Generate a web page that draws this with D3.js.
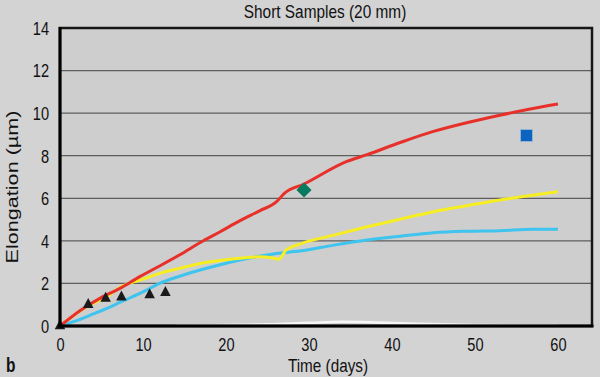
<!DOCTYPE html>
<html>
<head>
<meta charset="utf-8">
<script src="https://cdn.jsdelivr.net/npm/d3@7"></script>
<style>
  html, body { margin: 0; padding: 0; background: #d3d3d3; }
  svg { display: block; }
  text { font-family: "Liberation Sans", Arial, Helvetica, sans-serif; fill: #111; }
</style>
</head>
<body>
<svg id="chart" width="600" height="377"></svg>
<script>
// values: [days, elongation µm]
const redSeries = [[0,0],[2.4,0.72],[4.8,1.3],[7.4,1.8],[9.6,2.32],[12,2.82],[14.5,3.36],[16.9,3.92],
  [19.3,4.43],[21.7,4.95],[24.1,5.42],[26.1,5.84],[27,6.22],[29.4,6.67],[34.5,7.72],[37,8.05],
  [41,8.62],[44.9,9.13],[49,9.55],[53,9.9],[56.5,10.18],[60,10.43]];
const yellowSeries = [[0,0],[3.4,0.95],[5.5,1.35],[7.4,1.85],[10,2.2],[12,2.47],[14.5,2.72],[16.9,2.94],
  [19.3,3.08],[21.7,3.18],[24.1,3.25],[25.5,3.2],[26.4,3.14],[27.2,3.55],[28.9,3.85],[33,4.27],
  [37,4.66],[41,5.02],[45,5.37],[49,5.65],[53,5.92],[56.5,6.12],[60,6.31]];
const cyanSeries = [[0,0],[2,0.25],[3.6,0.5],[5.5,0.8],[7.4,1.14],[10,1.6],[12,2.0],[14.5,2.35],
  [16.9,2.63],[19.3,2.88],[21.7,3.1],[24,3.28],[26.1,3.41],[28.9,3.52],[33,3.8],[37,4.04],
  [41,4.22],[45,4.38],[49,4.45],[53,4.48],[57,4.54],[60,4.54]];
const whiteSeries = [[14,0.02],[20,0.05],[25,0.08],[30,0.15],[34,0.2],[38,0.17],[42,0.12],
  [46,0.08],[50,0.05],[55,0.03],[60,0.02]];
const triangles = [[0,0],[3.4,1.0],[5.5,1.3],[7.4,1.35],[10.8,1.46],[12.7,1.57]];
const diamonds = [[29.4,6.39]];
const squares = [[56.2,8.95]];
const xTicks = [0,10,20,30,40,50,60];
const yTicks = [0,2,4,6,8,10,12,14];

// layout
const plot = { left: 60, right: 592, top: 28, bottom: 326 };
const stretch = 1.25; // the picture's text is taller than it is wide

const svg = d3.select('#chart');

const x = d3.scaleLinear().domain([0, 64.1]).range([plot.left, plot.right]);
const y = d3.scaleLinear().domain([0, 14]).range([plot.bottom, plot.top]);

// plot background
svg.append('rect')
  .attr('x', plot.left).attr('y', plot.top)
  .attr('width', plot.right - plot.left).attr('height', plot.bottom - plot.top)
  .attr('fill', '#cecece');

// grid lines
svg.append('g')
  .selectAll('line')
  .data(yTicks.filter(d => d > 0 && d < 14))
  .join('line')
  .attr('x1', plot.left).attr('x2', plot.right)
  .attr('y1', d => y(d)).attr('y2', d => y(d))
  .attr('stroke', '#5e5e5e')
  .attr('stroke-width', 1.3);

// series lines
const line = d3.line().x(d => x(d[0])).y(d => y(d[1])).curve(d3.curveMonotoneX);

const drawLine = (data, color, width) => {
  svg.append('path')
    .datum(data)
    .attr('fill', 'none')
    .attr('stroke', color)
    .attr('stroke-width', width)
    .attr('stroke-linejoin', 'round')
    .attr('d', line);
};

drawLine(whiteSeries, '#f6f6f6', 2.5);
drawLine(cyanSeries, '#3ec4ee', 3);
drawLine(yellowSeries, '#f6ee22', 3);
drawLine(redSeries, '#e8302a', 3);

// frame
svg.append('rect')
  .attr('x', plot.left).attr('y', plot.top)
  .attr('width', plot.right - plot.left).attr('height', plot.bottom - plot.top)
  .attr('fill', 'none')
  .attr('stroke', '#151515')
  .attr('stroke-width', 2.5);

// markers
svg.append('g')
  .selectAll('path')
  .data(triangles)
  .join('path')
  .attr('transform', d => `translate(${x(d[0])},${y(d[1])}) scale(1,1.1)`)
  .attr('d', d3.symbol(d3.symbolTriangle, 48))
  .attr('fill', '#1a1a1a');

svg.append('g')
  .selectAll('path')
  .data(diamonds)
  .join('path')
  .attr('transform', d => `translate(${x(d[0])},${y(d[1])}) rotate(45)`)
  .attr('d', d3.symbol(d3.symbolSquare, 115))
  .attr('fill', '#087a5e');

svg.append('g')
  .selectAll('rect')
  .data(squares)
  .join('rect')
  .attr('x', d => x(d[0]) - 6).attr('y', d => y(d[1]) - 6)
  .attr('width', 12).attr('height', 12)
  .attr('fill', '#0a64c0')
  .attr('stroke', '#9fb8d6')
  .attr('stroke-width', 0.8);

// axes
const xAxis = svg.append('g')
  .attr('transform', `translate(0,${plot.bottom})`)
  .call(d3.axisBottom(x).tickValues(xTicks).tickSize(0));
xAxis.select('.domain').remove();
xAxis.selectAll('text')
  .attr('y', 0).attr('dy', null)
  .attr('transform', `translate(0,25) scale(1,${stretch})`)
  .style('font-size', '14.6px')
  .style('fill', '#111');

const yAxis = svg.append('g')
  .attr('transform', `translate(${plot.left},0)`)
  .call(d3.axisLeft(y).tickValues(yTicks).tickSize(0));
yAxis.select('.domain').remove();
yAxis.selectAll('text')
  .attr('x', 0).attr('dy', null)
  .attr('text-anchor', 'end')
  .attr('transform', `translate(-11,6.4) scale(1,${stretch})`)
  .style('font-size', '14.6px')
  .style('fill', '#111');

// thick axis lines on the left and bottom
svg.append('line')
  .attr('x1', plot.left).attr('x2', plot.left)
  .attr('y1', plot.top - 1).attr('y2', plot.bottom + 1.5)
  .attr('stroke', '#000').attr('stroke-width', 3);
svg.append('line')
  .attr('x1', plot.left - 1.5).attr('x2', plot.right + 1.5)
  .attr('y1', plot.bottom).attr('y2', plot.bottom)
  .attr('stroke', '#000').attr('stroke-width', 3);

// titles
svg.append('text')
  .attr('transform', `translate(325,17.5) scale(1,1.2)`)
  .attr('text-anchor', 'middle')
  .style('font-size', '15.4px')
  .text('Short Samples (20 mm)');

svg.append('text')
  .attr('transform', `translate(328,371.5) scale(1,${stretch})`)
  .attr('text-anchor', 'middle')
  .style('font-size', '15.3px')
  .text('Time (days)');

svg.append('text')
  .attr('transform', `translate(18,187) scale(1,${stretch}) rotate(-90)`)
  .attr('text-anchor', 'middle')
  .style('font-size', '17.3px')
  .text('Elongation (µm)');

svg.append('text')
  .attr('transform', `translate(6,372) scale(1,${stretch})`)
  .style('font-size', '15.5px')
  .style('font-weight', 'bold')
  .text('b');
</script>
</body>
</html>
